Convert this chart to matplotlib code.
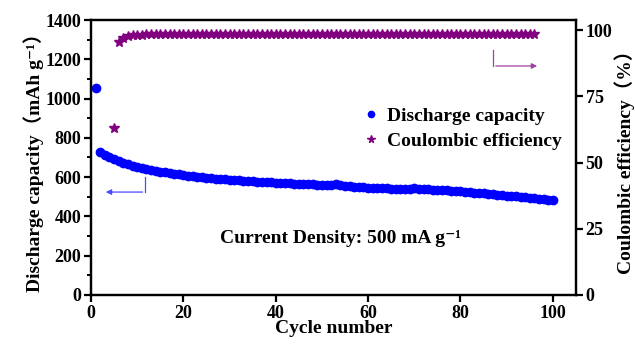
import matplotlib
matplotlib.use("Agg")
import matplotlib.pyplot as plt
import numpy as np

plt.rcParams['font.family'] = ['Liberation Serif', 'Noto Sans CJK SC', 'DejaVu Serif']
plt.rcParams['font.weight'] = 'bold'

# discharge capacity, cycles 1..100
cycles = list(range(1, 101))
capacity = [1055, 728, 712, 700, 690, 680, 672, 665, 658, 652,
            646, 641, 636, 632, 628, 624, 620, 617, 614, 611,
            608, 605, 602, 600, 597, 595, 593, 591, 589, 587,
            585, 584, 582, 580, 579, 577, 576, 574, 573, 572,
            570, 569, 568, 567, 566, 565, 564, 563, 562, 561,
            560, 558, 566, 560, 555, 553, 552, 550, 549, 547,
            546, 545, 545, 544, 542, 541, 540, 538, 541, 543,
            542, 540, 539, 537, 536, 534, 532, 530, 529, 527,
            525, 523, 521, 519, 517, 515, 513, 511, 508, 506,
            504, 502, 500, 497, 495, 493, 490, 488, 486, 483]

# coulombic efficiency, cycles 5..96
ce_cycles = list(range(5, 97))
efficiency = [63.0, 95.5, 97.0, 97.6, 98.0, 98.2, 98.3, 98.4, 98.4, 98.5] + [98.5] * 70 + \
             [98.6, 98.5, 98.5, 98.5, 98.4, 98.4, 98.5, 98.5, 98.5, 98.5, 98.5, 98.5]

fig = plt.figure(figsize=(6.35, 3.45), dpi=100)
ax = fig.add_axes([0.1433, 0.145, 0.7637, 0.797])
ax2 = ax.twinx()

l1, = ax.plot(cycles, capacity, 'o', color='#0000ff', ms=6, mec='#0000ff', label='Discharge capacity')
l2, = ax2.plot(ce_cycles, efficiency, '*', color='#800080', ms=7.5, mec='#800080', label='Coulombic efficiency')

ax.set_xlim(0, 105)
ax.set_ylim(0, 1400)
ax2.set_ylim(0, 103.8)
ax.set_xticks([0, 20, 40, 60, 80, 100])
ax.set_yticks(np.arange(0, 1401, 200))
ax.set_yticks(np.arange(100, 1400, 200), minor=True)
ax2.set_yticks([0, 25, 50, 75, 100])

for a in (ax, ax2):
    for s in a.spines.values():
        s.set_linewidth(1.6)
    a.tick_params(labelsize=13, width=1.6, length=5, direction='out', pad=2)
    a.tick_params(which='minor', width=1.4, length=3, direction='out')
ax.tick_params(axis='x', pad=2)

ax.set_xlabel('Cycle number', fontsize=14, fontweight='bold', labelpad=-1)
ax.set_ylabel('Discharge capacity（mAh g⁻¹）', fontsize=14, fontweight='bold', labelpad=1)
ax2.set_ylabel('Coulombic efficiency（%）', fontsize=14, fontweight='bold', labelpad=1)

ax.text(28, 290, 'Current Density: 500 mA g⁻¹', fontsize=14, fontweight='bold', va='center')

# arrows
ax.plot([11.7, 11.7], [600, 524], color='#4a4aff', lw=0.9)
ax.annotate('', xy=(2.6, 524), xytext=(11.75, 524),
            arrowprops=dict(arrowstyle='-|>', color='#4a4aff', lw=0.9, mutation_scale=8))
ax.plot([87.1, 87.1], [1247, 1166], color='#a040a0', lw=0.9)
ax.annotate('', xy=(97.2, 1166), xytext=(87.05, 1166),
            arrowprops=dict(arrowstyle='-|>', color='#a040a0', lw=0.9, mutation_scale=8))

ax.legend(handles=[l1, l2], loc='upper left', bbox_to_anchor=(0.522, 0.745), frameon=False,
          fontsize=14, handlelength=1.0, handletextpad=0.3, labelspacing=0.35, markerscale=0.75)

fig.savefig('out.png', dpi=100)
